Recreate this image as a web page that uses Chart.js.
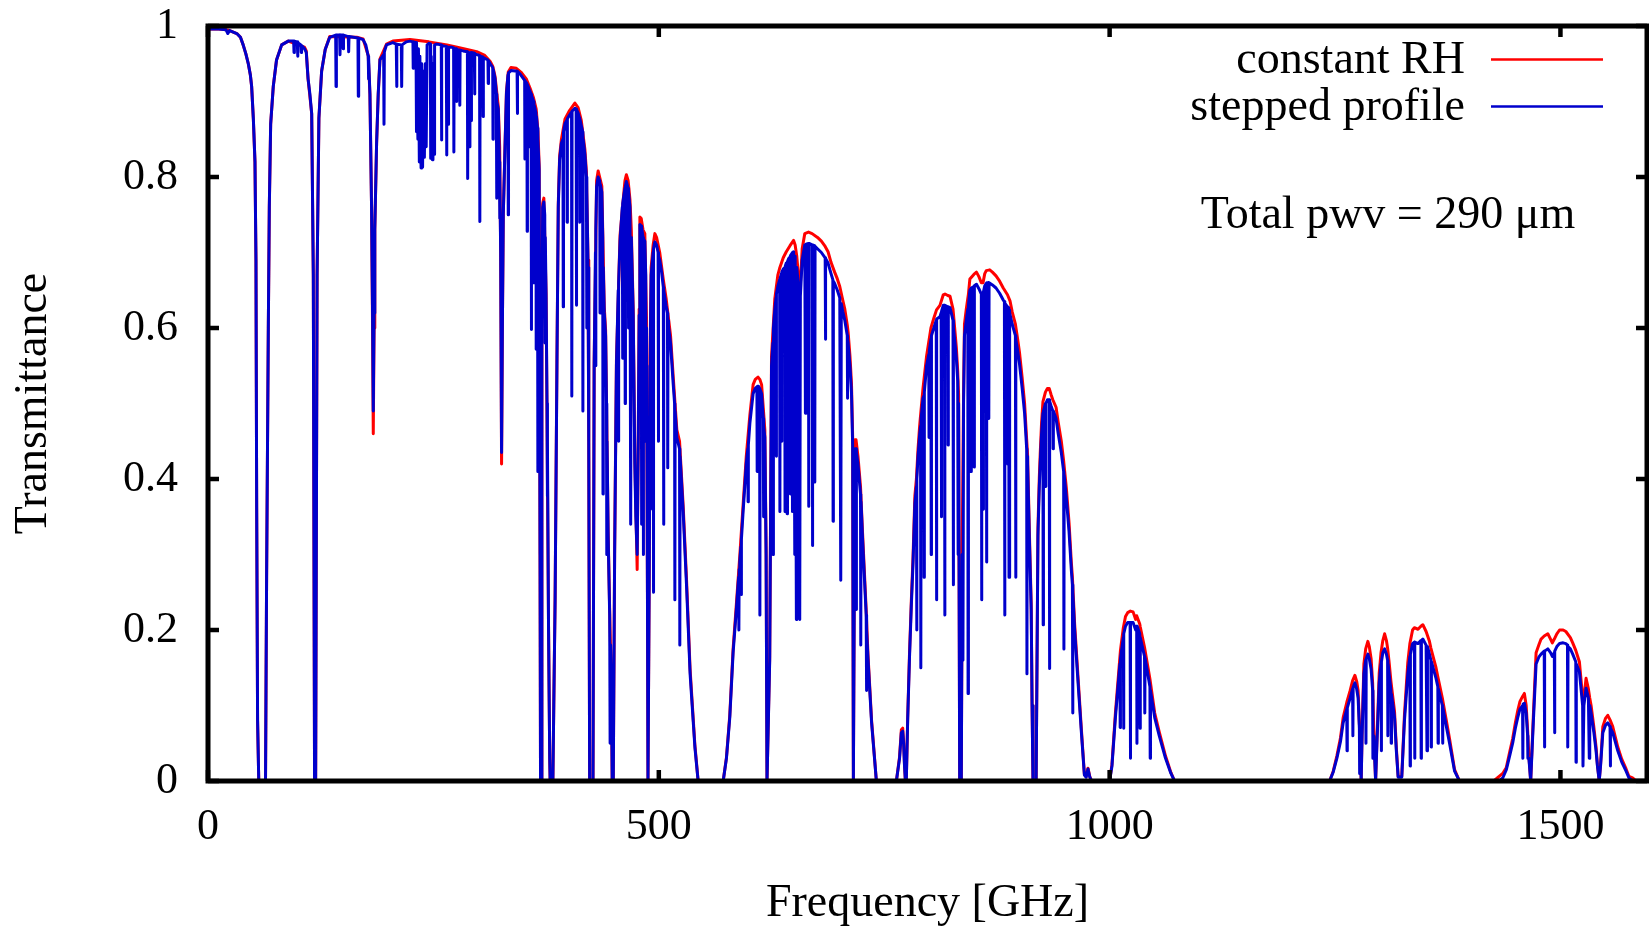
<!DOCTYPE html>
<html>
<head>
<meta charset="utf-8">
<title>Transmittance</title>
<script src="https://cdn.jsdelivr.net/npm/chart.js@4.4.1/dist/chart.umd.min.js"></script>
<style>
  html, body { margin: 0; padding: 0; background: #fff; }
  #contenedor { width: 1649px; height: 927px; }
</style>
</head>
<body>
<div id="contenedor"><canvas id="grafico" width="1649" height="927"></canvas></div>
<script>
const seriesNames = ["constant RH", "stepped profile"];
const seriesColors = ["#ff0000", "#0000cc"];
const xTicks = [0, 500, 1000, 1500];
const yTicks = [0, 0.2, 0.4, 0.6, 0.8, 1];
const xLabel = "Frequency [GHz]";
const yLabel = "Transmittance";
const pwvNote = "Total pwv = 290 μm";

// [frecuencia GHz, transmitancia]
const constantRH = [
  [0,0.996],[12,0.996],[20,0.995],[24,0.994],[32,0.99],[36,0.985],[39,0.975],[42,0.963],[44.7,0.95],[47,0.935],[48.4,0.92],[50.3,0.877],[52.1,0.82],[53.2,0.69],[54,0.36],[55,0.08],[56.3,0],
  [63.8,0],[65,0.27],[66.9,0.6],[68,0.76],[69.5,0.87],[72.4,0.92],[76,0.955],[81.7,0.975],[89,0.98],[107,0.972],[109,0.967],
  [111,0.93],[115,0.884],[116.8,0.67],[118.2,0],[119.4,0],[121,0.67],[123,0.878],[126,0.94],[130,0.969],[135,0.986],[165,0.985],
  [172,0.983],[177.7,0.961],[179.6,0.91],[181.4,0.76],[182.5,0.6],[183.3,0.46],[184.2,0.6],[185,0.73],[187,0.845],[188.8,0.91],
  [190.7,0.956],[198,0.976],[205,0.98],[224,0.982],[245,0.979],[265,0.975],[280,0.971],[298,0.966],[307,0.961],[313,0.953],
  [316,0.946],[318.4,0.933],[320,0.915],[322,0.893],[323.5,0.84],[324.6,0.7],[325.6,0.42],[326.5,0.6],[327.5,0.75],[329,0.822],
  [331,0.913],[333,0.939],[336,0.945],[342,0.944],[347,0.939],[353,0.93],[358,0.915],[361,0.905],[364,0.89],[366,0.86],
  [367.3,0.815],[368.3,0.3],[368.8,0],[369.5,0],[370.3,0.6],[371.2,0.765],[372.5,0.772],[375,0.645],[377.7,0.205],[379,0.03],
  [379.5,0],[382.5,0],[383.5,0.1],[385,0.245],[387,0.555],[388.5,0.765],[390,0.828],[392,0.85],[396,0.877],[401,0.888],
  [406.9,0.898],[410.5,0.892],[414,0.875],[418,0.837],[419.7,0.807],[421.5,0.69],[422.3,0.45],[423.3,0],[427,0],[428.3,0.555],
  [431,0.795],[432.7,0.808],[436.8,0.788],[439.5,0.628],[441,0.597],[443.8,0.33],[445.5,0.225],[447.5,0.123],[448.3,0],[449.5,0],
  [451,0.305],[453,0.557],[457,0.723],[462.4,0.795],[464,0.803],[466,0.795],[468,0.77],[469.5,0.73],[471.6,0.625],[473.4,0.425],
  [476,0.28],[477.2,0.455],[478.2,0.625],[479,0.747],[480.5,0.745],[482.5,0.73],[484.5,0.725],[486.4,0.61],[487.4,0.25],[488,0],
  [489.5,0.3],[490.3,0.56],[491.5,0.68],[493.7,0.71],[495.6,0.725],[497.5,0.72],[501,0.7],[505,0.664],[508,0.64],[510.8,0.612],
  [513,0.59],[516,0.535],[520,0.465],[523,0.45],[527,0.365],[530.7,0.268],[534.7,0.148],[540,0.048],[543.6,0],
  [571.4,0],[575,0.031],[578.7,0.087],[582.4,0.175],[586,0.234],[589.8,0.298],[593.5,0.366],[597,0.43],[601,0.485],[604.6,0.525],
  [607,0.532],[610,0.535],[612,0.532],[614,0.525],[617.6,0.465],[619,0.31],[620,0],[621,0],[623,0.165],[625,0.562],[628.6,0.638],
  [632,0.67],[634,0.679],[638,0.693],[641.4,0.701],[645.5,0.709],[649.5,0.716],[651.2,0.71],[653,0.695],[654.5,0.675],[657,0.657],
  [659,0.705],[661.9,0.725],[666,0.727],[670,0.725],[676,0.72],[680.3,0.715],[684.5,0.708],[687.7,0.701],[691,0.687],[695,0.674],
  [698,0.665],[700.7,0.655],[704,0.637],[706.3,0.625],[709,0.604],[710,0.594],[712,0.563],[713.7,0.526],[715,0.455],[715.8,0],
  [717,0.31],[717.5,0.452],[718.7,0.452],[720.9,0.43],[723.7,0.39],[726,0.328],[728.4,0.267],[730,0.226],[732,0.167],[736,0.08],
  [741.3,0],[763.5,0],[767,0.032],[769,0.068],[770.5,0.07],[771.5,0.053],[772.5,0.022],[773.5,0],[774.5,0],[776,0.083],[778,0.167],
  [780,0.237],[782,0.298],[784,0.378],[785.7,0.4],[787.5,0.44],[789.4,0.472],[793,0.52],[797,0.563],[801.8,0.6],[805,0.613],
  [808,0.624],[811.8,0.63],[815.5,0.644],[817.4,0.645],[820.5,0.643],[823,0.642],[826.3,0.625],[828.5,0.595],[830,0.574],
  [831.5,0.543],[832.5,0.512],[833.7,0],[835.5,0],[836.5,0.31],[838,0.512],[839,0.605],[841,0.625],[843.4,0.645],[845,0.665],
  [849.4,0.671],[852.3,0.674],[855,0.668],[857.7,0.66],[859.6,0.66],[861.5,0.672],[863.2,0.676],[867,0.677],[870,0.674],[874,0.669],
  [878,0.662],[882,0.653],[886.7,0.644],[889.5,0.636],[892,0.621],[895.5,0.605],[898,0.585],[900,0.568],[903,0.534],[905.7,0.5],
  [908,0.452],[909,0.432],[911,0.33],[913,0.235],[914,0.1],[915,0],[918.5,0],[920.5,0.335],[922,0.402],[923,0.433],[924.5,0.474],
  [926,0.502],[928.8,0.515],[931,0.52],[933,0.52],[935,0.512],[937,0.505],[940.6,0.495],[943,0.475],[946.4,0.45],[949,0.424],
  [952,0.388],[955,0.342],[957.5,0.29],[958.7,0.27],[961.2,0.208],[965,0.137],[968.7,0.068],[972,0.009],[974,0.006],[976,0.017],
  [978,0.006],[980,0],[1000,0],[1002.6,0.022],[1006.4,0.09],[1012,0.173],[1015.2,0.203],[1017.6,0.218],[1020,0.223],[1023,0.225],
  [1026,0.224],[1028.9,0.214],[1030,0.219],[1033.4,0.208],[1034,0.204],[1038.7,0.177],[1044.7,0.135],[1050,0.09],[1055,0.065],
  [1062,0.033],[1068,0.011],[1072,0],[1244,0],[1248,0.013],[1252,0.033],[1256,0.057],[1259,0.084],[1263,0.104],[1266.8,0.12],
  [1269.5,0.133],[1272,0.14],[1274,0.132],[1275.6,0.12],[1277,0.076],[1278,0.055],[1279,0],[1280,0.065],[1282,0.155],[1284,0.175],
  [1286.4,0.185],[1288,0.178],[1290,0.162],[1291.7,0.13],[1293,0.065],[1295,0],[1296.5,0.055],[1299,0.143],[1301,0.17],[1303,0.186],
  [1305,0.195],[1307,0.186],[1308.3,0.176],[1310,0.157],[1312,0.132],[1316,0.092],[1318,0.044],[1320,0.006],[1324,0.006],[1327,0.088],
  [1330.7,0.157],[1333,0.182],[1336,0.2],[1338,0.203],[1342,0.201],[1345.2,0.205],[1347.4,0.207],[1351,0.198],[1354.7,0.185],
  [1356.3,0.176],[1362,0.15],[1364,0.138],[1369,0.11],[1373,0.083],[1377,0.056],[1382.6,0.015],[1388,0],[1426,0],[1430,0.004],
  [1432,0.006],[1436,0.01],[1440,0.018],[1444,0.04],[1447,0.056],[1450,0.077],[1452.6,0.093],[1455,0.105],[1458,0.112],[1460,0.116],
  [1462,0.1],[1463.6,0.067],[1465,0.033],[1467,0],[1468.5,0.044],[1470,0.088],[1473,0.17],[1476,0.18],[1478.5,0.188],[1482,0.192],
  [1486,0.195],[1489,0.188],[1491,0.183],[1493.2,0.188],[1496,0.195],[1499,0.2],[1503,0.2],[1506,0.198],[1511,0.19],[1513.6,0.183],
  [1517,0.173],[1521,0.158],[1523,0.132],[1524.6,0.11],[1526,0.11],[1528.4,0.136],[1531,0.122],[1532.5,0.11],[1534,0.1],[1537,0.072],
  [1539.5,0.045],[1541,0.022],[1543,0],[1544.5,0.022],[1547,0.072],[1550,0.083],[1552.5,0.087],[1555,0.081],[1558,0.072],
  [1563.6,0.045],[1568,0.029],[1572.8,0.016],[1576,0.006],[1580,0.004],[1584,0],[1596,0]
];

const steppedProfile = [
  [0,0.996],[12,0.996],[20,0.995],[22,0.99],[24,0.994],[32,0.99],[36,0.985],[39,0.975],[42,0.963],[44.7,0.95],[47,0.935],[48.4,0.92],
  [50.3,0.877],[52.1,0.82],[53.2,0.69],[54,0.36],[55,0.08],[56.3,0],[63.8,0],[65,0.27],[66.9,0.6],[68,0.76],[69.5,0.87],[72.4,0.92],
  [76,0.955],[81.7,0.975],[89,0.98],[95,0.98],[95.4,0.965],[95.8,0.98],[99,0.979],[99.4,0.96],[99.8,0.978],[103,0.975],[103.4,0.965],
  [103.8,0.974],[107,0.97],[109,0.965],[111,0.93],[113,0.91],[115,0.884],[116.8,0.67],[118.2,0],[119.4,0],[121,0.67],[123,0.878],
  [126,0.94],[130,0.969],[135,0.985],[141.6,0.988],[142,0.92],[142.4,0.988],[146,0.988],[146.4,0.962],[146.8,0.988],[149.5,0.988],
  [149.9,0.97],[150.3,0.988],[155.6,0.986],[156,0.966],[156.4,0.986],[166.3,0.984],[166.7,0.907],[167.1,0.984],[172,0.982],
  [175,0.975],[177.7,0.96],[178,0.93],[178.3,0.958],[179.6,0.91],[181.4,0.76],[182.5,0.62],[183.3,0.49],[184.2,0.62],[185,0.73],
  [187,0.845],[188.8,0.91],[190.7,0.955],[194.8,0.962],[195.2,0.87],[195.6,0.966],[198,0.975],[205,0.978],[208.8,0.976],
  [209.2,0.92],[209.6,0.976],[214.4,0.975],[214.8,0.92],[215.2,0.975],[220,0.979],[224,0.98],[227.3,0.979],[227.6,0.944],
  [227.9,0.979],[230.7,0.978],[231,0.86],[231.5,0.978],[232.8,0.85],[233.4,0.97],[234.4,0.82],[235,0.96],[236.3,0.812],[237,0.95],
  [238,0.813],[239,0.94],[240,0.826],[241,0.95],[242,0.84],[243,0.975],[245,0.977],[246.6,0.976],[247,0.825],[247.6,0.96],
  [248.8,0.823],[249.5,0.95],[250.7,0.83],[251.3,0.975],[253.6,0.976],[258.7,0.975],[259,0.849],[259.3,0.974],[264.3,0.973],
  [264.6,0.829],[265,0.96],[266.4,0.87],[266.8,0.972],[270,0.972],[272.4,0.971],[272.7,0.833],[273,0.97],[275.4,0.97],[275.7,0.9],
  [276,0.969],[279,0.968],[279.3,0.895],[279.6,0.968],[283,0.967],[287.7,0.966],[288,0.798],[288.4,0.95],[290,0.84],[290.5,0.965],
  [291.8,0.875],[292.2,0.965],[295.4,0.964],[295.7,0.91],[296,0.963],[301.2,0.961],[301.5,0.741],[301.8,0.96],[304.8,0.959],
  [305.1,0.88],[305.4,0.958],[310.5,0.955],[310.8,0.924],[311.1,0.954],[313,0.95],[315.8,0.945],[316.1,0.85],[316.4,0.942],
  [318.4,0.93],[319.8,0.91],[320.1,0.772],[320.4,0.9],[322,0.89],[323.2,0.82],[323.5,0.745],[323.8,0.8],[324.6,0.7],[325.6,0.435],
  [326.5,0.6],[327.5,0.75],[329,0.82],[331,0.91],[332.7,0.935],[333,0.75],[333.3,0.938],[336,0.941],[342.8,0.94],[343.1,0.884],
  [343.4,0.94],[347,0.935],[351.2,0.928],[351.5,0.824],[351.8,0.927],[353.7,0.924],[354,0.728],[354.3,0.922],[356,0.917],
  [356.3,0.84],[356.6,0.915],[358.3,0.91],[358.6,0.598],[358.9,0.908],[361.2,0.9],[361.5,0.66],[361.8,0.895],[363.7,0.885],
  [364,0.572],[364.3,0.88],[365.4,0.865],[365.7,0.41],[366,0.85],[367.3,0.81],[368.3,0.3],[368.8,0],[369.5,0],[370.3,0.6],
  [371.2,0.76],[372.5,0.767],[373.5,0.75],[373.8,0.58],[374.1,0.72],[375,0.64],[376,0.5],[376.3,0.377],[376.6,0.45],[377.7,0.2],
  [379,0.03],[379.5,0],[382.5,0],[383.5,0.1],[385,0.24],[387,0.55],[388.5,0.76],[390,0.823],[392,0.845],[393.7,0.85],[394,0.628],
  [394.3,0.86],[396,0.871],[398,0.875],[398.3,0.74],[398.6,0.877],[401,0.882],[403.2,0.886],[403.5,0.51],[403.8,0.887],[406.9,0.891],
  [408.3,0.89],[408.6,0.63],[408.9,0.889],[410.5,0.885],[412,0.878],[412.3,0.74],[412.6,0.876],[414,0.868],[415.5,0.86],[415.8,0.49],
  [416.1,0.85],[418,0.83],[419.7,0.8],[420,0.6],[420.3,0.78],[421.5,0.68],[422.3,0.45],[423.3,0],[427,0],[428.3,0.55],[429.7,0.7],
  [430,0.55],[430.3,0.73],[431,0.787],[432.7,0.8],[434.5,0.795],[434.8,0.62],[435.1,0.79],[436.8,0.78],[437.8,0.72],[438.1,0.38],
  [438.4,0.68],[439.5,0.62],[441,0.59],[442,0.5],[442.3,0.3],[442.6,0.45],[443.8,0.325],[445.5,0.22],[446,0.05],[446.5,0.18],
  [447.5,0.12],[448.3,0],[449.5,0],[451,0.3],[453,0.55],[455,0.65],[455.3,0.45],[455.6,0.66],[457,0.715],[459.5,0.76],[459.8,0.56],
  [460.1,0.765],[462.4,0.785],[462.7,0.5],[463,0.788],[464,0.794],[466,0.785],[466.3,0.6],[466.6,0.78],[468,0.76],[468.8,0.34],
  [469.5,0.72],[471.6,0.617],[473.4,0.42],[474.5,0.35],[476,0.3],[477.2,0.45],[478.2,0.617],[479,0.737],[480.5,0.735],[480.8,0.34],
  [481.1,0.733],[482.5,0.72],[482.8,0.3],[483.1,0.718],[484.5,0.715],[485.5,0.67],[485.8,0.45],[486.4,0.6],[487.4,0.25],[488,0],
  [489.5,0.3],[490.3,0.55],[490.6,0.36],[490.9,0.6],[491.5,0.67],[493.7,0.7],[494,0.25],[494.3,0.705],[495.6,0.714],[497.5,0.71],
  [499.2,0.7],[499.5,0.45],[499.8,0.695],[501,0.69],[503,0.675],[505,0.654],[505.3,0.34],[505.6,0.65],[508,0.63],[509.6,0.62],
  [509.9,0.415],[510.2,0.61],[510.8,0.602],[513,0.58],[516,0.525],[517.5,0.5],[517.8,0.24],[518.1,0.49],[520,0.455],[523,0.44],
  [523.3,0.18],[523.6,0.43],[527,0.357],[530.7,0.26],[534.7,0.142],[540,0.045],[543.6,0],
  [571.4,0],[575,0.03],[578.7,0.084],[582.4,0.17],[586,0.227],[588.5,0.27],[588.8,0.2],[589.1,0.28],[589.8,0.29],[591,0.31],
  [591.3,0.247],[591.6,0.32],[593.5,0.357],[597,0.42],[598.7,0.44],[599,0.37],[599.3,0.445],[601,0.474],[604.6,0.513],[607,0.52],
  [608.8,0.522],[609.1,0.41],[609.4,0.523],[610.5,0.523],[611.8,0.52],[612.1,0.22],[612.4,0.518],[614,0.513],[615.8,0.48],
  [616.1,0.35],[616.4,0.47],[617.6,0.455],[619,0.3],[620,0],
  [621,0],[623,0.16],[625,0.55],[626.5,0.58],[626.8,0.3],[627.1,0.6],[628.6,0.624],[630,0.64],[630.3,0.43],[630.6,0.645],[632,0.655],
  [634,0.664],[634.3,0.357],[634.6,0.666],[636,0.672],[636.3,0.45],[636.6,0.674],[638,0.678],[639.7,0.68],[640,0.357],[640.3,0.682],
  [641.4,0.686],[642.3,0.354],[642.7,0.688],[644,0.692],[644.3,0.5],[644.6,0.693],[645.5,0.694],[645.8,0.38],[646.1,0.696],
  [647.8,0.699],[648.1,0.357],[648.4,0.7],[649.5,0.701],[650.8,0.3],[651.2,0.695],[652.6,0.214],[653,0.68],[654.5,0.66],
  [656.3,0.214],[657,0.642],[659,0.69],[661.9,0.71],[662.6,0.487],[663.2,0.711],[666,0.712],[666.3,0.364],[666.6,0.712],
  [667.5,0.712],[670.1,0.71],[670.4,0.312],[670.7,0.71],[672.7,0.709],[673,0.396],[673.3,0.708],[676,0.705],[680.3,0.7],
  [684.5,0.693],[684.8,0.585],[685.1,0.692],[687.7,0.686],[691,0.672],[693,0.664],[693.3,0.344],[693.6,0.662],[695,0.659],
  [698,0.65],[700.7,0.64],[701.8,0.266],[702.4,0.632],[704,0.622],[706.3,0.61],[709,0.59],[709.2,0.507],[709.5,0.585],[710,0.58],
  [712,0.55],[713.7,0.514],[715,0.444],[715.8,0],
  [717,0.3],[717.5,0.44],[718.7,0.44],[719,0.227],[719.3,0.435],[720.9,0.42],[723.7,0.38],[724,0.18],[724.3,0.37],[726,0.32],
  [728.4,0.26],[730,0.22],[730.3,0.12],[730.6,0.2],[732,0.162],[736,0.077],[741.3,0],
  [763.5,0],[767,0.03],[769,0.064],[770.5,0.066],[771.5,0.05],[772.5,0.02],[773.5,0],[774.5,0],
  [776,0.08],[778,0.162],[780,0.23],[782,0.29],[784,0.368],[785.7,0.39],[786,0.2],[786.3,0.4],[787.5,0.43],[789.4,0.46],[790.3,0.47],
  [790.6,0.15],[790.9,0.48],[793,0.507],[793.9,0.51],[794.2,0.27],[794.5,0.515],[797,0.55],[799.4,0.565],[799.7,0.455],[800,0.57],
  [801.8,0.585],[802.1,0.3],[802.4,0.59],[805,0.6],[807.7,0.61],[808,0.24],[808.3,0.612],[811.8,0.615],[813.1,0.62],[813.4,0.35],
  [813.7,0.622],[815.5,0.63],[816.8,0.63],[817.1,0.22],[817.4,0.63],[820.5,0.628],[820.8,0.445],[821.1,0.628],[823,0.627],
  [826.3,0.61],[826.6,0.26],[826.9,0.6],[828.5,0.58],[830,0.56],[831.5,0.53],[832,0.3],[832.5,0.5],[833.7,0],[835.5,0],
  [836.5,0.3],[837.3,0.16],[838,0.5],[839,0.59],[841,0.61],[842.7,0.625],[843,0.116],[843.4,0.63],[845,0.65],[846,0.652],
  [846.3,0.41],[846.6,0.653],[849.4,0.655],[849.7,0.416],[850,0.656],[852.3,0.658],[855,0.652],[857.7,0.645],[858,0.24],
  [858.3,0.644],[859.6,0.645],[859.9,0.36],[860.2,0.648],[861.5,0.656],[863.2,0.659],[863.5,0.29],[863.8,0.66],[865.7,0.66],
  [866,0.48],[866.3,0.66],[867,0.66],[870,0.657],[874,0.653],[878,0.646],[882,0.637],[883.3,0.635],[883.6,0.22],[883.9,0.633],
  [886.7,0.628],[887,0.42],[887.3,0.627],[888.1,0.625],[888.4,0.27],[888.7,0.624],[889.5,0.62],[892,0.605],[895.5,0.59],
  [895.8,0.27],[896.1,0.585],[898,0.57],[900,0.553],[903,0.52],[905.7,0.487],[908,0.44],[908.3,0.142],[908.6,0.43],[909,0.42],
  [911,0.32],[913,0.227],[914,0.1],[915,0],[918.5,0],
  [920.5,0.325],[922,0.39],[923,0.42],[924.5,0.46],[926,0.487],[926.3,0.207],[926.6,0.49],[928.8,0.5],[929.1,0.39],[929.4,0.5],
  [931,0.505],[933,0.505],[933.3,0.149],[933.6,0.503],[935,0.497],[937,0.49],[937.3,0.44],[937.6,0.49],[940.6,0.48],[943,0.46],
  [946.4,0.435],[949,0.41],[949.3,0.175],[949.6,0.405],[952,0.375],[955,0.33],[957.5,0.28],[958.7,0.26],[959,0.09],[959.3,0.25],
  [961.2,0.2],[965,0.13],[968.7,0.064],[972,0.008],[974,0.005],[976,0.016],[978,0.005],[980,0],
  [1000,0],[1002.6,0.02],[1006.4,0.084],[1011.4,0.155],[1011.7,0.071],[1012,0.162],[1015.2,0.19],[1015.5,0.07],[1015.8,0.195],
  [1017.6,0.205],[1020,0.21],[1022.7,0.21],[1023,0.03],[1023.3,0.21],[1026,0.21],[1028.9,0.2],[1030,0.205],[1030.3,0.05],
  [1030.6,0.205],[1033.4,0.195],[1033.7,0.07],[1034,0.19],[1038.7,0.165],[1039,0.09],[1039.3,0.163],[1044.7,0.125],[1045,0.03],
  [1045.3,0.12],[1050,0.084],[1055,0.06],[1062,0.03],[1068,0.01],[1072,0],
  [1244,0],[1248,0.012],[1252,0.03],[1256,0.052],[1259,0.077],[1263,0.095],[1263.3,0.04],[1263.6,0.097],[1266.8,0.11],
  [1269.5,0.122],[1269.8,0.06],[1270.1,0.124],[1272,0.13],[1274,0.122],[1275.6,0.11],[1277,0.07],[1277.3,0.01],[1278,0.05],
  [1279,0],[1280,0.06],[1282,0.142],[1284,0.16],[1284.3,0.05],[1284.6,0.162],[1286.4,0.168],[1288,0.162],[1290,0.148],
  [1291.7,0.12],[1292,0.03],[1293,0.06],[1295,0],[1296.5,0.05],[1299,0.13],[1301,0.155],[1301.3,0.04],[1301.6,0.158],[1303,0.17],
  [1305,0.175],[1307,0.168],[1308.3,0.16],[1308.6,0.06],[1308.9,0.155],[1310,0.142],[1312,0.12],[1312.3,0.05],[1312.6,0.115],
  [1316,0.084],[1318,0.04],[1320,0.005],[1324,0.005],[1327,0.08],[1330.7,0.142],[1333,0.165],[1333.3,0.02],[1333.6,0.168],
  [1336,0.182],[1338,0.184],[1338.3,0.03],[1338.6,0.184],[1342,0.182],[1345.2,0.186],[1345.5,0.03],[1345.8,0.186],[1347.4,0.188],
  [1351,0.18],[1352,0.04],[1352.5,0.178],[1354.7,0.168],[1356.3,0.16],[1356.6,0.045],[1356.9,0.158],[1362,0.136],[1364,0.125],
  [1364.3,0.05],[1364.6,0.122],[1369,0.1],[1369.3,0.05],[1369.6,0.098],[1373,0.075],[1377,0.05],[1382.6,0.013],[1388,0],
  [1432,0],[1436,0.004],[1440,0.015],[1444,0.035],[1447,0.05],[1450,0.07],[1452.6,0.084],[1455,0.095],[1458,0.1],[1458.3,0.03],
  [1458.6,0.102],[1460,0.103],[1462,0.09],[1463.6,0.06],[1463.9,0.03],[1465,0.03],[1467,0],[1468.5,0.04],[1470,0.08],[1473,0.155],
  [1476,0.164],[1478.5,0.168],[1482,0.172],[1482.3,0.045],[1482.6,0.172],[1486,0.175],[1489,0.17],[1491,0.165],[1493.2,0.17],
  [1493.5,0.064],[1493.8,0.172],[1496,0.178],[1499,0.182],[1503,0.183],[1506,0.182],[1507.8,0.18],[1508.1,0.045],[1508.4,0.178],
  [1511,0.175],[1513.6,0.168],[1517,0.158],[1517.3,0.025],[1517.6,0.155],[1521,0.145],[1523,0.12],[1524.6,0.1],[1525,0.02],
  [1526,0.1],[1528.4,0.123],[1531,0.11],[1532,0.03],[1532.5,0.1],[1534,0.09],[1537,0.065],[1539.5,0.04],[1541,0.02],[1543,0],
  [1544.5,0.02],[1547,0.064],[1550,0.074],[1552.5,0.077],[1555,0.072],[1555.3,0.02],[1555.6,0.07],[1558,0.064],[1563.6,0.04],
  [1568,0.025],[1572.8,0.013],[1576,0.004],[1580,0],[1596,0]
];

const fuente = "'Liberation Serif', 'Times New Roman', serif";

function aPuntos(lista) {
  return lista.map(p => ({ x: p[0], y: p[1] }));
}

// marco negro, ticks hacia dentro, leyenda y nota (estilo gnuplot)
const marcoGnuplot = {
  id: 'marcoGnuplot',
  afterDraw(chart) {
    const ctx = chart.ctx;
    const a = chart.chartArea;
    const sx = chart.scales.x;
    const sy = chart.scales.y;
    ctx.save();
    ctx.strokeStyle = '#000';
    ctx.lineWidth = 4.5;
    const largo = 11;
    ctx.beginPath();
    sx.ticks.forEach(t => {
      const px = sx.getPixelForValue(t.value);
      ctx.moveTo(px, a.bottom); ctx.lineTo(px, a.bottom - largo);
      ctx.moveTo(px, a.top); ctx.lineTo(px, a.top + largo);
    });
    sy.ticks.forEach(t => {
      const py = sy.getPixelForValue(t.value);
      ctx.moveTo(a.left, py); ctx.lineTo(a.left + largo, py);
      ctx.moveTo(a.right, py); ctx.lineTo(a.right - largo, py);
    });
    ctx.stroke();
    ctx.lineWidth = 5;
    ctx.strokeRect(a.left, a.top, a.right - a.left, a.bottom - a.top);

    // leyenda
    ctx.font = '46px ' + fuente;
    ctx.fillStyle = '#000';
    ctx.textAlign = 'right';
    ctx.textBaseline = 'alphabetic';
    const filas = [a.top + 47, a.top + 94];
    chart.data.datasets.forEach((ds, i) => {
      ctx.fillText(ds.label, a.right - 182, filas[i]);
      ctx.strokeStyle = ds.borderColor;
      ctx.lineWidth = 2.5;
      ctx.beginPath();
      ctx.moveTo(a.right - 156, filas[i] - 13.5);
      ctx.lineTo(a.right - 44, filas[i] - 13.5);
      ctx.stroke();
    });
    ctx.textAlign = 'center';
    ctx.fillText(pwvNote, a.right - 259, a.top + 202);
    ctx.restore();
  }
};

new Chart(document.getElementById('grafico'), {
  type: 'line',
  data: {
    datasets: [
      {
        label: seriesNames[0],
        data: aPuntos(constantRH),
        borderColor: seriesColors[0],
        backgroundColor: seriesColors[0],
        borderWidth: 3,
        pointRadius: 0,
        tension: 0,
        borderJoinStyle: 'round',
        order: 2
      },
      {
        label: seriesNames[1],
        data: aPuntos(steppedProfile),
        borderColor: seriesColors[1],
        backgroundColor: seriesColors[1],
        borderWidth: 3,
        pointRadius: 0,
        tension: 0,
        borderJoinStyle: 'round',
        order: 1
      }
    ]
  },
  options: {
    responsive: false,
    animation: false,
    devicePixelRatio: 1,
    events: [],
    layout: { padding: { top: 26, right: 2, bottom: 0, left: 0 } },
    plugins: {
      legend: { display: false },
      tooltip: { enabled: false }
    },
    scales: {
      x: {
        type: 'linear',
        min: 0,
        max: 1596,
        afterBuildTicks: s => { s.ticks = xTicks.map(v => ({ value: v })); },
        afterFit: s => { s.height = 146; s.paddingLeft = 0; s.paddingRight = 0; },
        grid: { display: false, drawTicks: false },
        border: { display: false },
        ticks: {
          color: '#000',
          font: { family: fuente, size: 44 },
          padding: 20,
          maxRotation: 0,
          autoSkip: false,
          callback: v => String(v)
        },
        title: {
          display: true,
          text: xLabel,
          color: '#000',
          font: { family: fuente, size: 46, lineHeight: 1 },
          padding: { top: 0, bottom: 0 }
        }
      },
      y: {
        min: 0,
        max: 1,
        afterBuildTicks: s => { s.ticks = yTicks.map(v => ({ value: v })); },
        afterFit: s => { s.width = 208; s.paddingTop = 0; s.paddingBottom = 0; },
        grid: { display: false, drawTicks: false },
        border: { display: false },
        ticks: {
          color: '#000',
          font: { family: fuente, size: 44 },
          padding: 30,
          callback: v => String(v)
        },
        title: {
          display: true,
          text: yLabel,
          color: '#000',
          font: { family: fuente, size: 46 },
          padding: { top: 6, bottom: 0 }
        }
      }
    }
  },
  plugins: [marcoGnuplot]
});
</script>
</body>
</html>
